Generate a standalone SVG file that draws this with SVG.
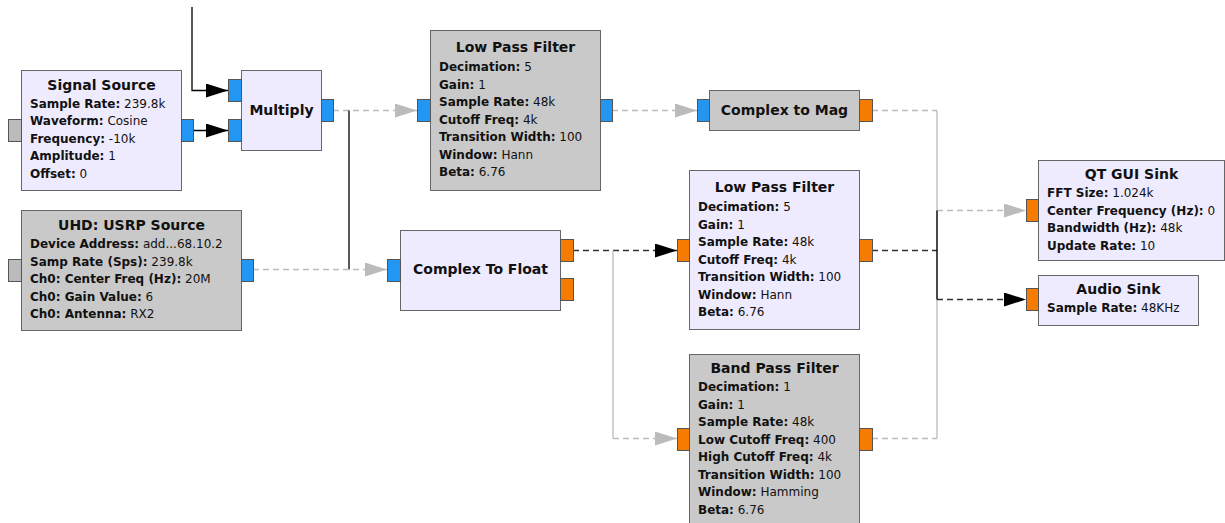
<svg xmlns="http://www.w3.org/2000/svg" width="1225" height="523" viewBox="0 0 1225 523">
  <defs>
    <style>
      .blk { stroke: #666666; stroke-width: 1; }
      .norm { fill: #EFEBFE; }
      .off { fill: #C9C9C9; }
      .pc { fill: #2196F3; stroke: #555555; stroke-width: 1; }
      .pf { fill: #F57C00; stroke: #555555; stroke-width: 1; }
      .pm { fill: #BBBBBB; stroke: #555555; stroke-width: 1; }
      .title { font-family: "DejaVu Sans", sans-serif; font-size: 14px; font-weight: bold; text-anchor: middle; fill: #111111; }
      .prm { font-family: "DejaVu Sans", sans-serif; font-size: 12px; fill: #111111; }
      .prm .k { font-weight: bold; }
      .wk { fill: none; stroke: #000000; stroke-width: 1.3; }
      .wkd { fill: none; stroke: #333333; stroke-width: 1.3; stroke-dasharray: 6 4; }
      .wg { fill: none; stroke: #BBBBBB; stroke-width: 1.3; }
      .wgd { fill: none; stroke: #BBBBBB; stroke-width: 1.3; stroke-dasharray: 6 4; }
    </style>
    <marker id="arrK" markerUnits="userSpaceOnUse" markerWidth="23" markerHeight="15" refX="22" refY="7" orient="auto">
      <path d="M0,0 L22,7 L0,14 z" fill="#000000"/>
    </marker>
    <marker id="arrG" markerUnits="userSpaceOnUse" markerWidth="23" markerHeight="15" refX="22" refY="7" orient="auto">
      <path d="M0,0 L22,7 L0,14 z" fill="#BBBBBB"/>
    </marker>
  </defs>

  <rect x="0" y="0" width="1225" height="523" fill="#FFFFFF"/>

  <!-- connections -->
  <g id="connections">
    <path class="wk" d="M192,7 V90.5 H228" marker-end="url(#arrK)"/>
    <path class="wk" d="M193,130.5 H228" marker-end="url(#arrK)"/>
    <path class="wgd" d="M333,110.5 H417" marker-end="url(#arrG)"/>
    <path class="wk" d="M349,110.5 V269.5"/>
    <path class="wgd" d="M253,269.5 H387" marker-end="url(#arrG)"/>
    <path class="wgd" d="M612,110.5 H697" marker-end="url(#arrG)"/>
    <path class="wkd" d="M573,250.5 H677" marker-end="url(#arrK)"/>
    <path class="wg" d="M613,250.5 V438.5"/>
    <path class="wgd" d="M613,438.5 H677" marker-end="url(#arrG)"/>
    <path class="wgd" d="M872,110.5 H937"/>
    <path class="wg" d="M937,110.5 V438.5"/>
    <path class="wgd" d="M872,438.5 H937"/>
    <path class="wgd" d="M937,210.5 H1026" marker-end="url(#arrG)"/>
    <path class="wkd" d="M872,250.5 H937"/>
    <path class="wk" d="M937,210.5 V299.5"/>
    <path class="wkd" d="M937,299.5 H1026" marker-end="url(#arrK)"/>
  </g>

  <!-- Signal Source -->
  <g id="signal_source">
    <rect class="blk norm" x="21.5" y="70.5" width="160" height="120"/>
    <rect class="pm" x="8.5" y="119.5" width="13" height="22"/>
    <rect class="pc" x="181.5" y="119.5" width="12" height="22"/>
    <text class="title" x="101.5" y="90">Signal Source</text>
    <text class="prm" x="30" y="107.5"><tspan class="k">Sample Rate:</tspan> 239.8k</text>
    <text class="prm" x="30" y="125"><tspan class="k">Waveform:</tspan> Cosine</text>
    <text class="prm" x="30" y="142.5"><tspan class="k">Frequency:</tspan> -10k</text>
    <text class="prm" x="30" y="160"><tspan class="k">Amplitude:</tspan> 1</text>
    <text class="prm" x="30" y="177.5"><tspan class="k">Offset:</tspan> 0</text>
  </g>

  <!-- Multiply -->
  <g id="multiply">
    <rect class="blk norm" x="241.5" y="70.5" width="80" height="80"/>
    <rect class="pc" x="228.5" y="79.5" width="13" height="22"/>
    <rect class="pc" x="228.5" y="119.5" width="13" height="22"/>
    <rect class="pc" x="321.5" y="99.5" width="12" height="22"/>
    <text class="title" x="281.5" y="115">Multiply</text>
  </g>

  <!-- UHD: USRP Source -->
  <g id="usrp_source">
    <rect class="blk off" x="21.5" y="210.5" width="220" height="120"/>
    <rect class="pm" x="8.5" y="259.5" width="13" height="22"/>
    <rect class="pc" x="241.5" y="259.5" width="12" height="22"/>
    <text class="title" x="131.5" y="229.5">UHD: USRP Source</text>
    <text class="prm" x="30" y="248"><tspan class="k">Device Address:</tspan> add...68.10.2</text>
    <text class="prm" x="30" y="265.5"><tspan class="k">Samp Rate (Sps):</tspan> 239.8k</text>
    <text class="prm" x="30" y="283"><tspan class="k">Ch0: Center Freq (Hz):</tspan> 20M</text>
    <text class="prm" x="30" y="300.5"><tspan class="k">Ch0: Gain Value:</tspan> 6</text>
    <text class="prm" x="30" y="318"><tspan class="k">Ch0: Antenna:</tspan> RX2</text>
  </g>

  <!-- Low Pass Filter (complex) -->
  <g id="low_pass_filter_0">
    <rect class="blk off" x="430.5" y="30.5" width="170" height="160"/>
    <rect class="pc" x="417.5" y="99.5" width="13" height="22"/>
    <rect class="pc" x="600.5" y="99.5" width="12" height="22"/>
    <text class="title" x="515.5" y="52">Low Pass Filter</text>
    <text class="prm" x="439" y="71"><tspan class="k">Decimation:</tspan> 5</text>
    <text class="prm" x="439" y="88.5"><tspan class="k">Gain:</tspan> 1</text>
    <text class="prm" x="439" y="106"><tspan class="k">Sample Rate:</tspan> 48k</text>
    <text class="prm" x="439" y="123.5"><tspan class="k">Cutoff Freq:</tspan> 4k</text>
    <text class="prm" x="439" y="141"><tspan class="k">Transition Width:</tspan> 100</text>
    <text class="prm" x="439" y="158.5"><tspan class="k">Window:</tspan> Hann</text>
    <text class="prm" x="439" y="176"><tspan class="k">Beta:</tspan> 6.76</text>
  </g>

  <!-- Complex to Mag -->
  <g id="complex_to_mag">
    <rect class="blk off" x="709.5" y="90.5" width="150" height="40"/>
    <rect class="pc" x="697.5" y="99.5" width="12" height="22"/>
    <rect class="pf" x="859.5" y="99.5" width="13" height="22"/>
    <text class="title" x="784.5" y="115">Complex to Mag</text>
  </g>

  <!-- Complex To Float -->
  <g id="complex_to_float">
    <rect class="blk norm" x="400.5" y="230.5" width="160" height="80"/>
    <rect class="pc" x="387.5" y="259.5" width="13" height="22"/>
    <rect class="pf" x="560.5" y="239.5" width="13" height="22"/>
    <rect class="pf" x="560.5" y="278.5" width="13" height="22"/>
    <text class="title" x="480.5" y="274">Complex To Float</text>
  </g>

  <!-- Low Pass Filter (float) -->
  <g id="low_pass_filter_1">
    <rect class="blk norm" x="689.5" y="170.5" width="170" height="159"/>
    <rect class="pf" x="677.5" y="239.5" width="12" height="22"/>
    <rect class="pf" x="859.5" y="239.5" width="13" height="22"/>
    <text class="title" x="774.5" y="192">Low Pass Filter</text>
    <text class="prm" x="698" y="211"><tspan class="k">Decimation:</tspan> 5</text>
    <text class="prm" x="698" y="228.5"><tspan class="k">Gain:</tspan> 1</text>
    <text class="prm" x="698" y="246"><tspan class="k">Sample Rate:</tspan> 48k</text>
    <text class="prm" x="698" y="263.5"><tspan class="k">Cutoff Freq:</tspan> 4k</text>
    <text class="prm" x="698" y="281"><tspan class="k">Transition Width:</tspan> 100</text>
    <text class="prm" x="698" y="298.5"><tspan class="k">Window:</tspan> Hann</text>
    <text class="prm" x="698" y="316"><tspan class="k">Beta:</tspan> 6.76</text>
  </g>

  <!-- Band Pass Filter -->
  <g id="band_pass_filter">
    <rect class="blk off" x="689.5" y="354.5" width="170" height="180"/>
    <rect class="pf" x="677.5" y="428.5" width="12" height="22"/>
    <rect class="pf" x="859.5" y="428.5" width="13" height="22"/>
    <text class="title" x="774.5" y="372.5">Band Pass Filter</text>
    <text class="prm" x="698" y="391"><tspan class="k">Decimation:</tspan> 1</text>
    <text class="prm" x="698" y="408.5"><tspan class="k">Gain:</tspan> 1</text>
    <text class="prm" x="698" y="426"><tspan class="k">Sample Rate:</tspan> 48k</text>
    <text class="prm" x="698" y="443.5"><tspan class="k">Low Cutoff Freq:</tspan> 400</text>
    <text class="prm" x="698" y="461"><tspan class="k">High Cutoff Freq:</tspan> 4k</text>
    <text class="prm" x="698" y="478.5"><tspan class="k">Transition Width:</tspan> 100</text>
    <text class="prm" x="698" y="496"><tspan class="k">Window:</tspan> Hamming</text>
    <text class="prm" x="698" y="513.5"><tspan class="k">Beta:</tspan> 6.76</text>
  </g>

  <!-- QT GUI Sink -->
  <g id="qtgui_sink">
    <rect class="blk norm" x="1038.5" y="160.5" width="186" height="100"/>
    <rect class="pf" x="1026.5" y="199.5" width="12" height="22"/>
    <text class="title" x="1131.5" y="178.5">QT GUI Sink</text>
    <text class="prm" x="1047" y="197"><tspan class="k">FFT Size:</tspan> 1.024k</text>
    <text class="prm" x="1047" y="214.5"><tspan class="k">Center Frequency (Hz):</tspan> 0</text>
    <text class="prm" x="1047" y="232"><tspan class="k">Bandwidth (Hz):</tspan> 48k</text>
    <text class="prm" x="1047" y="249.5"><tspan class="k">Update Rate:</tspan> 10</text>
  </g>

  <!-- Audio Sink -->
  <g id="audio_sink">
    <rect class="blk norm" x="1038.5" y="275.5" width="160" height="50"/>
    <rect class="pf" x="1026.5" y="288.5" width="12" height="22"/>
    <text class="title" x="1118.5" y="293.5">Audio Sink</text>
    <text class="prm" x="1047" y="312"><tspan class="k">Sample Rate:</tspan> 48KHz</text>
  </g>
</svg>
